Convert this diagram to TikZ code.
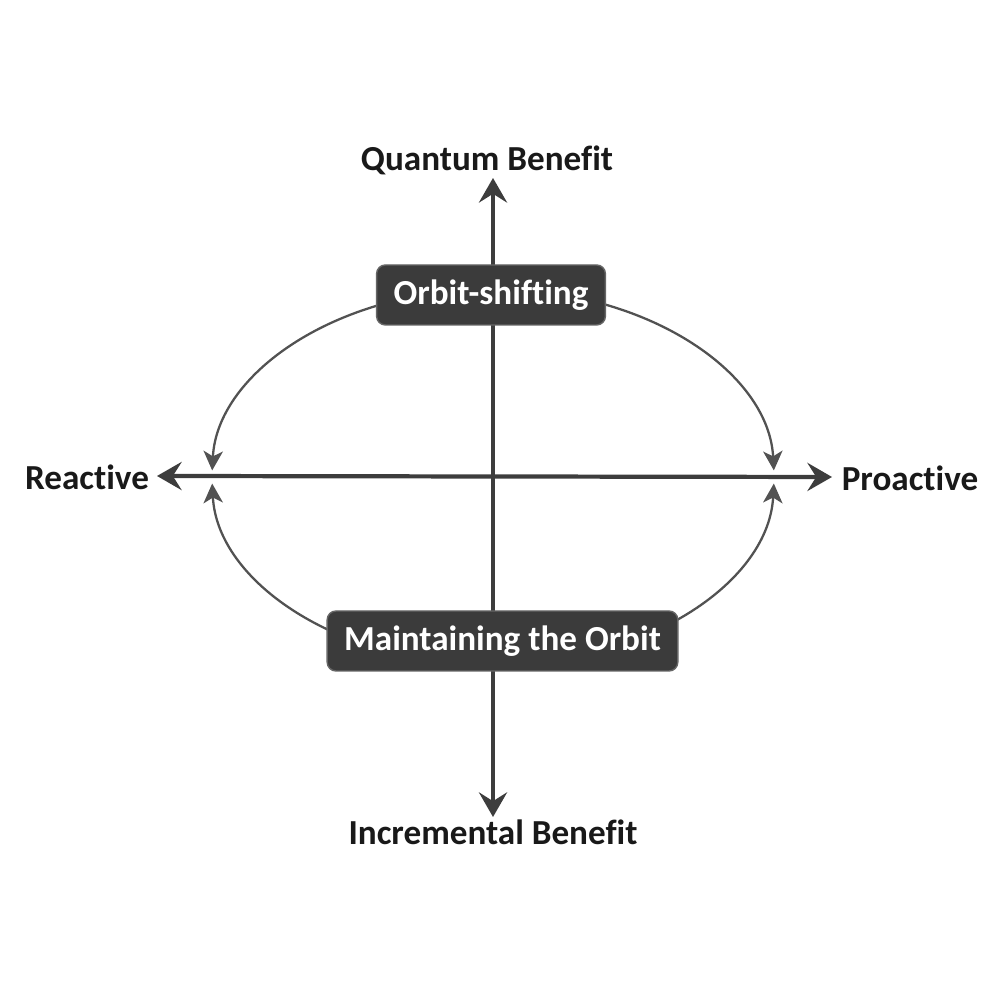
\documentclass[tikz,border=0pt]{standalone}
\usepackage{fontspec}
\setmainfont{Carlito}[Ligatures=NoCommon]
\usepackage{tikz}
\usetikzlibrary{arrows.meta, positioning, backgrounds, calc}

\begin{document}
\begin{tikzpicture}[
    % GLOBAL CFG
    font=\bfseries\fontsize{10}{12}\selectfont,
    >={Stealth[length=7pt, width=8pt, inset=2.5pt]},
    % Styles
    axis/.style={% For the two main axes
        draw=black!76,
        line width=1.2pt,
        },
    orbit/.style={% For the dark boxes
        rectangle,
        rounded corners=2.5pt,
        fill=black!77,
        draw=black!60,
        text=white,
        minimum height=0.6cm,
        inner xsep=0.17cm,
        },
    axlabel/.style={% For the axis names
        text=black!90,
        inner sep=1pt,
        },
    ArrowE/.style={% Thin arrows on the ellipse
        draw=black!68,
        line width=0.65pt,
        -{Stealth[length=5.5pt, width=5.5pt, inset=1.5pt]},
        }
    ]

    % Keep the page square
    \useasboundingbox (0,0) rectangle (10,10);

    % Centre of the orbit, named c
    \coordinate (c) at (4.93,5.23);

    % Axis ends
    \coordinate (top) at (4.93,8.22);
    \coordinate (bot) at (4.93,1.83);
    \coordinate (lft) at (1.57,5.24);
    \coordinate (rgt) at (8.32,5.23);

    % Axis labels
    \node[axlabel] (quan) at (4.87,8.40) {Quantum Benefit};
    \node[axlabel] (incr) at (4.93,1.68) {Incremental Benefit};
    \node[axlabel] (reac) at (0.87,5.23) {Reactive};
    \node[axlabel] (proa) at (9.10,5.22) {Proactive};

    % Draw axes
    \draw[axis, <->] (bot) -- (top);
    \draw[axis, <->] (lft) -- (rgt);

    % Boxes
    \node[orbit] (shift) at (4.91,7.05) {Orbit-shifting};
    \node[orbit] (keep) at (5.025,3.59) {Maintaining the Orbit};

    % Orbit arcs, behind the boxes
    \begin{scope}[on background layer]
    \draw[ArrowE] ($(c)+(100:2.81 and 1.88)$) arc[start angle=100, end angle=178, x radius=2.81, y radius=1.88];
    \draw[ArrowE] ($(c)+(80:2.81 and 1.88)$) arc[start angle=80, end angle=2, x radius=2.81, y radius=1.88];
    \draw[ArrowE] ($(c)+(262:2.81 and 1.88)$) arc[start angle=262, end angle=182, x radius=2.81, y radius=1.88];
    \draw[ArrowE] ($(c)+(278:2.81 and 1.88)$) arc[start angle=278, end angle=358, x radius=2.81, y radius=1.88];
    \end{scope}

\end{tikzpicture}
\end{document}
